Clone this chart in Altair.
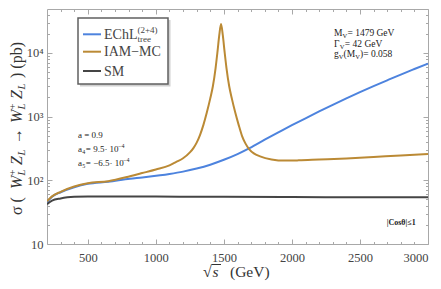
import altair as alt
import pandas as pd

# ---------------- data ----------------
s_echl = [200, 237, 300, 400, 500, 650, 810, 900, 1031, 1100, 1200, 1300, 1400, 1500, 1600,
          1692, 1800, 1900, 2000, 2100, 2200, 2300, 2400, 2500, 2600, 2700, 2800, 2900, 3000]
v_echl = [45, 55, 65, 78, 88, 95, 106, 111, 120, 126, 137, 153, 176, 210, 258,
          323, 434, 565, 733, 942, 1205, 1530, 1930, 2420, 3010, 3720, 4580, 5590, 6800]

s_iam = [200, 237, 300, 400, 500, 650, 810, 900, 1000, 1100, 1150, 1200, 1250, 1276, 1300,
         1325, 1349, 1374, 1399, 1419, 1439, 1453, 1466, 1479, 1492, 1505, 1519, 1539, 1559,
         1584, 1609, 1633, 1658, 1685, 1720, 1766, 1850, 1950, 2050, 2200, 2400, 2600, 2800, 3000]
v_iam = [47, 56, 66, 80, 90, 97, 116, 130, 148, 172, 195, 222, 274, 321, 391,
         519, 735, 1148, 1900, 3000, 5800, 10500, 19000, 28500, 19000, 10500, 5800, 3000, 1900,
         1148, 735, 500, 380, 310, 265, 238, 213, 204, 206, 212, 220, 232, 246, 258]

s_sm = [200, 237, 300, 350, 400, 500, 1000, 1500, 2000, 2500, 3000]
v_sm = [42, 48, 52, 54, 55, 55.5, 55.5, 55, 54.5, 54.3, 54]

series_names = ["EChL", "IAM-MC", "SM"]
series_colors = ["#4d83de", "#bb8a35", "#454545"]

x_major = [500, 1000, 1500, 2000, 2500, 3000]
x_minor = [300, 400, 600, 700, 800, 900, 1100, 1200, 1300, 1400, 1600, 1700, 1800, 1900,
           2100, 2200, 2300, 2400, 2600, 2700, 2800, 2900]
y_major = [10, 100, 1000, 10000]
y_minor = [m * d for d in (10, 100, 1000) for m in range(2, 10)] + [20000, 30000, 40000]

rows = []
for name, ss, vv in zip(series_names, [s_echl, s_iam, s_sm], [v_echl, v_iam, v_sm]):
    for s, v in zip(ss, vv):
        rows.append({"s": s, "v": v, "series": name})
df = pd.DataFrame(rows)

# ---------------- layout ----------------
W, H = 381, 235
SERIF = "Liberation Serif"
TICK = "#a8a8a8"
xs = alt.Scale(domain=[200, 3000], nice=False, zero=False)
ys = alt.Scale(type="log", domain=[10, 49000], nice=False)

lines = alt.Chart(df).mark_line(strokeWidth=2, interpolate="monotone", clip=True).encode(
    x=alt.X("s:Q", scale=xs, axis=alt.Axis(
        orient="bottom", values=x_major, format="d", ticks=False, domain=False, grid=False,
        labelFont=SERIF, labelFontSize=12.5, labelColor="#444", labelPadding=7, title=None)),
    y=alt.Y("v:Q", scale=ys, axis=alt.Axis(
        orient="left", values=y_major, ticks=False, domain=False, grid=False,
        labelExpr="datum.value == 10 ? '10' : datum.value == 100 ? '10²' : datum.value == 1000 ? '10³' : '10⁴'",
        labelFont=SERIF, labelFontSize=12.5, labelColor="#444", labelPadding=4, title=None)),
    color=alt.Color("series:N", scale=alt.Scale(domain=series_names, range=series_colors), legend=None),
)


def tick_layer(xvals, yvals, xorient, yorient, size):
    common = dict(labels=False, domain=False, grid=False, tickColor=TICK, tickWidth=1,
                  tickSize=size, title=None)
    return alt.Chart(df).mark_line(opacity=0).encode(
        x=alt.X("s:Q", scale=xs, axis=alt.Axis(orient=xorient, offset=-H, values=xvals, **common)),
        y=alt.Y("v:Q", scale=ys, axis=alt.Axis(orient=yorient, offset=-W, values=yvals, **common)),
    )


ticks = [
    tick_layer(x_major, y_major, "top", "right", 5),
    tick_layer(x_minor, y_minor, "top", "right", 2.5),
    tick_layer(x_major, y_major, "bottom", "left", 5),
    tick_layer(x_minor, y_minor, "bottom", "left", 2.5),
]

one = pd.DataFrame({"k": [0]})


def txt(t, x, y, size, style="normal", angle=0, color="#222", weight="normal"):
    return alt.Chart(one).mark_text(
        text=t, fontSize=size, font=SERIF, fontStyle=style, angle=angle, align="left",
        baseline="alphabetic", color=color, fontWeight=weight,
    ).encode(x=alt.value(x), y=alt.value(y))


def hrun(pieces, x0, y0, color="#222"):
    out = []
    x = x0
    for t, size, style, dy, adv in pieces:
        out.append(txt(t, x, y0 + dy, size, style, color=color))
        x += adv
    return out


texts = []
# legend box with a soft shadow
shadow = alt.Chart(one).mark_rect(fill="#d0d0d0").encode(
    x=alt.value(33), x2=alt.value(123.5), y=alt.value(11), y2=alt.value(77.5))
box = alt.Chart(one).mark_rect(fill="white", stroke="#606060", strokeWidth=1.5).encode(
    x=alt.value(31), x2=alt.value(121), y=alt.value(9), y2=alt.value(75))
legend_y = [25.3, 42.7, 62]
swatches = []
for yy, col in zip(legend_y, series_colors):
    swatches.append(alt.Chart(one).mark_rule(color=col, strokeWidth=2).encode(
        x=alt.value(36), x2=alt.value(54), y=alt.value(yy)))
LC = "#444"
texts += hrun([("EChL", 14, "normal", 0, 33.5), ("(2+4)", 9, "normal", -6, 0)], 57, 30, LC)
texts += [txt("tree", 57 + 33.5, 33, 9, color=LC)]
texts += [txt("IAM−MC", 57, 47.4, 14, color=LC), txt("SM", 57, 66.7, 14, color=LC)]

# parameter annotations (left)
texts += [txt("a = 0.9", 31, 129, 9)]
texts += hrun([("a", 9, "normal", 0, 4.2), ("4", 6, "normal", 2, 3.6),
               ("= 9.5· 10", 9, "normal", 0, 32.3), ("−4", 6, "normal", -4, 0)], 31, 143)
texts += hrun([("a", 9, "normal", 0, 4.2), ("5", 6, "normal", 2, 3.6),
               ("= −6.5· 10", 9, "normal", 0, 37.3), ("−4", 6, "normal", -4, 0)], 31, 157)
# (right)
texts += hrun([("M", 9.5, "normal", 0, 8.4), ("V", 6.5, "normal", 2, 5.0),
               ("= 1479 GeV", 9.5, "normal", 0, 0)], 287, 26.5)
texts += hrun([("Γ", 9.5, "normal", 0, 5.8), ("V", 6.5, "normal", 2, 5.0),
               ("= 42 GeV", 9.5, "normal", 0, 0)], 287, 37.5)
texts += hrun([("g", 9.5, "normal", 0, 4.8), ("V", 6.5, "normal", 2, 4.8),
               ("(M", 9.5, "normal", 0, 11.6), ("V", 6.5, "normal", 2, 4.8),
               (")= 0.058", 9.5, "normal", 0, 0)], 287, 48)
texts += [txt("|Cosθ|≤1", 339.7, 216, 8, weight="bold")]

# x title
TC = "#333"
texts += [txt("√", 156, 268, 16, color=TC), txt("s", 165.5, 268, 15.5, "italic", color=TC),
          txt("(GeV)", 183, 268, 15.5, color=TC)]
overline = alt.Chart(one).mark_rule(color=TC, strokeWidth=1).encode(
    x=alt.value(164.5), x2=alt.value(174), y=alt.value(255.5))

# y title (rotated, reads bottom to top)
F, S = 16, 10.5
vpieces = [
    ("σ (", F, "normal", 0, 26),
    ("W", F, "italic", 0, 13.5),
    ("+", S, "normal", 6.5, 0), ("L", S, "italic", -3, 10.5),
    ("Z", F, "italic", 0, 9.5), ("L", S, "italic", -3, 11.5),
    ("→", F, "normal", 0, 21),
    ("W", F, "italic", 0, 13.5),
    ("+", S, "normal", 6.5, 0), ("L", S, "italic", -3, 10.5),
    ("Z", F, "italic", 0, 9.5), ("L", S, "italic", -3, 11.5),
    (") (pb)", F, "normal", 0, 0),
]
yy = 206
for t, size, style, shift, adv in vpieces:
    texts.append(txt(t, -25 - shift, yy, size, style, angle=270, color=TC))
    yy -= adv

chart = alt.layer(lines, *ticks, shadow, box, *swatches, overline, *texts).resolve_axis(
    x="independent", y="independent"
).properties(
    width=W, height=H,
    autosize=alt.AutoSizeParams(type="none"),
    padding={"left": 39, "top": 1, "right": 5, "bottom": 37},
).configure_view(stroke="#a8a8a8", strokeWidth=1).configure_axis(labelFont=SERIF)

chart.save("out.html", embed_options={"renderer": "svg", "actions": False})
